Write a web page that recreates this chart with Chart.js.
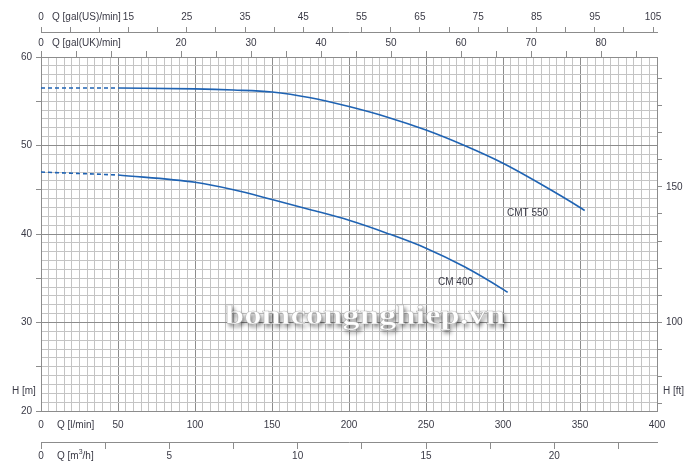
<!DOCTYPE html>
<html><head><meta charset="utf-8">
<script src="https://cdn.jsdelivr.net/npm/chart.js@4.4.1/dist/chart.umd.min.js"></script>
<style>html,body{margin:0;padding:0;background:#fff;}canvas{display:block;}</style>
</head><body>
<canvas id="c" width="700" height="473"></canvas>
<script>
// ---- data ----
const qCMT550Dash = [0, 50];
const hCMT550Dash = [56.5, 56.5];
const qCMT550 = [50, 100, 125, 150, 175, 200, 225, 250, 275, 300, 325, 350, 353];
const hCMT550 = [56.5, 56.4, 56.27, 56.05, 55.4, 54.4, 53.2, 51.75, 50.0, 48.0, 45.6, 43.0, 42.65];

const qCM400Dash = [0, 50];
const hCM400Dash = [47.0, 46.67];
const qCM400 = [50, 100, 125, 150, 175, 200, 225, 250, 275, 300, 303];
const hCM400 = [46.67, 45.84, 45.0, 43.9, 42.75, 41.55, 40.07, 38.4, 36.3, 33.75, 33.4];

const seriesNames = ['CMT 550', 'CM 400'];
const seriesLabelAt = [[302.6, 42.4], [257.8, 34.5]]; // label anchors in data units (Q, H)

// tick labels
const lpmLabels = [0, 50, 100, 150, 200, 250, 300, 350, 400];
const m3hLabels = [0, 5, 10, 15, 20];
const usLabels = [0, 15, 25, 35, 45, 55, 65, 75, 85, 95, 105];
const ukLabels = [0, 20, 30, 40, 50, 60, 70, 80];
const mLabels = [20, 30, 40, 50, 60];
const ftLabels = [100, 150];

const L_PER_USGAL = 3.785, L_PER_UKGAL = 4.546;
const FT_MIN = 67.3, FT_MAX = 197.9;

// ---- styles ----
const FONT = '"Liberation Sans", Arial, sans-serif';
const TXT = '#3a3a46';
const MAJOR = '#8c8c8c', MINOR = '#c4c4c4', CURVE = '#1f63b3';
const tickFont = {family: FONT, size: 10, lineHeight: 1.2};

function pts(q, h) { return q.map((v, i) => ({x: v, y: h[i]})); }
function range(a, b, step) { const r = []; for (let v = a; v <= b + 1e-9; v += step) r.push(+v.toFixed(4)); return r; }
function setTicks(arr) { return s => { s.ticks = arr.map(v => ({value: v})); }; }
function labelCb(arr) { return v => arr.includes(+(+v).toFixed(4)) ? String(v) : ''; }

function ds(label, q, h, dashed) {
  return {label, data: pts(q, h), showLine: true, borderColor: CURVE, backgroundColor: CURVE,
    borderWidth: 1.6, pointRadius: 0, fill: false, cubicInterpolationMode: 'monotone',
    borderDash: dashed ? [4, 3] : [], xAxisID: 'x', yAxisID: 'y'};
}

const extraText = {
  id: 'extraText',
  afterDraw(chart) {
    const c = chart.ctx, s = chart.scales, a = chart.chartArea;
    c.save();
    c.fillStyle = TXT; c.textBaseline = 'middle'; c.textAlign = 'left';
    c.font = `10px ${FONT}`;
    c.fillText('Q [gal(US)/min]', a.left + 11, s.xUS.bottom - 15);
    c.fillText('Q [gal(UK)/min]', a.left + 11, s.xUK.bottom - 14);
    c.fillText('Q [l/min]', a.left + 16, s.x.top + 14);
    // Q [m3/h]
    let x0 = a.left + 16, y0 = s.x2.top + 14;
    c.fillText('Q [m', x0, y0); x0 += c.measureText('Q [m').width;
    c.font = `7px ${FONT}`; c.fillText('3', x0, y0 - 4); x0 += c.measureText('3').width;
    c.font = `10px ${FONT}`; c.fillText('/h]', x0, y0);
    c.fillText('H [m]', 12, a.bottom - 20);
    c.fillText('H [ft]', a.right + 6, a.bottom - 20);
    seriesNames.forEach((n, i) => {
      c.fillText(n, s.x.getPixelForValue(seriesLabelAt[i][0]), s.y.getPixelForValue(seriesLabelAt[i][1]));
    });
    // watermark
    const wm = 'bomcongnghiep.vn';
    c.font = `bold 27px "Liberation Serif", "DejaVu Serif", serif`;
    const w = c.measureText(wm).width;
    c.translate(225, 324);
    c.scale(280 / w, 1);
    c.textBaseline = 'alphabetic';
    c.shadowColor = 'rgba(0,0,0,0.55)'; c.shadowBlur = 4; c.shadowOffsetX = 2; c.shadowOffsetY = 3;
    c.fillStyle = '#ffffff';
    c.fillText(wm, 0, 0);
    c.shadowColor = 'transparent';
    c.strokeStyle = 'rgba(150,150,150,0.6)'; c.lineWidth = 0.6;
    c.strokeText(wm, 0, 0);
    c.restore();
  }
};

const gridColor = ctx => (ctx.tick && Math.abs(ctx.tick.value % 50) < 1e-6) ? MAJOR : MINOR;
const gridColorY = ctx => (ctx.tick && Math.abs(ctx.tick.value % 10) < 1e-6) ? MAJOR : MINOR;

new Chart(document.getElementById('c'), {
  type: 'scatter',
  data: {datasets: [
    ds('CMT 550 (ext.)', qCMT550Dash, hCMT550Dash, true),
    ds('CMT 550', qCMT550, hCMT550, false),
    ds('CM 400 (ext.)', qCM400Dash, hCM400Dash, true),
    ds('CM 400', qCM400, hCM400, false)
  ]},
  options: {
    responsive: false, animation: false, devicePixelRatio: 1, events: [],
    layout: {padding: 0},
    plugins: {legend: {display: false}, tooltip: {enabled: false}},
    scales: {
      x: {type: 'linear', position: 'bottom', weight: 0, min: 0, max: 400,
        afterBuildTicks: setTicks(range(0, 400, 5)), afterFit: s => { s.height = 31; },
        ticks: {autoSkip: false, maxRotation: 0, minRotation: 0, padding: 8, color: TXT, font: tickFont, callback: labelCb(lpmLabels)},
        grid: {color: gridColor, lineWidth: 1, drawTicks: false}, border: {color: MAJOR}},
      x2: {type: 'linear', position: 'bottom', weight: 1, min: 0, max: 24,
        afterBuildTicks: setTicks(range(0, 22.5, 2.5)), afterFit: s => { s.height = 31; },
        ticks: {autoSkip: false, maxRotation: 0, minRotation: 0, padding: 1, color: TXT, font: tickFont, callback: labelCb(m3hLabels)},
        grid: {drawOnChartArea: false, tickLength: 7, color: MAJOR, tickColor: MAJOR}, border: {color: MAJOR}},
      xUK: {type: 'linear', position: 'top', weight: 0, min: 0, max: 400 / L_PER_UKGAL,
        afterBuildTicks: setTicks(range(0, 85, 5)), afterFit: s => { s.height = 25; },
        ticks: {autoSkip: false, maxRotation: 0, minRotation: 0, padding: 2, color: TXT, font: tickFont, callback: labelCb(ukLabels)},
        grid: {drawOnChartArea: false, tickLength: 6, color: MAJOR, tickColor: MAJOR}, border: {color: MAJOR}},
      xUS: {type: 'linear', position: 'top', weight: 1, min: 0, max: 400 / L_PER_USGAL,
        afterBuildTicks: setTicks(range(0, 105, 5)), afterFit: s => { s.height = 32; },
        ticks: {autoSkip: false, maxRotation: 0, minRotation: 0, padding: 4, color: TXT, font: tickFont, callback: labelCb(usLabels)},
        grid: {drawOnChartArea: false, tickLength: 5, color: MAJOR, tickColor: MAJOR}, border: {color: MAJOR}},
      y: {type: 'linear', position: 'left', min: 20, max: 60,
        afterBuildTicks: setTicks(range(20, 60, 1)), afterFit: s => { s.width = 41; },
        ticks: {autoSkip: false, padding: 4, color: TXT, font: tickFont, callback: labelCb(mLabels)},
        grid: {color: gridColorY, lineWidth: 1, tickLength: 5,
          tickColor: ctx => (ctx.tick && ctx.tick.value % 5 === 0) ? MAJOR : 'rgba(0,0,0,0)'},
        border: {color: MAJOR}},
      y2: {type: 'linear', position: 'right', min: FT_MIN, max: FT_MAX,
        afterBuildTicks: setTicks(range(70, 190, 10)), afterFit: s => { s.width = 43; },
        ticks: {autoSkip: false, padding: 4, color: TXT, font: tickFont, callback: labelCb(ftLabels)},
        grid: {drawOnChartArea: false, tickLength: 5, color: MAJOR, tickColor: MAJOR}, border: {color: MAJOR}}
    }
  },
  plugins: [extraText]
});
</script>
</body></html>
